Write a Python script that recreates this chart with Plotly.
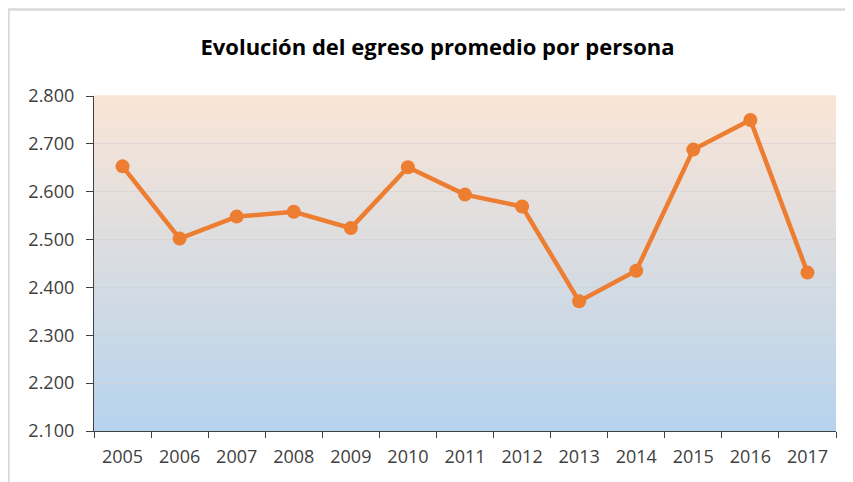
import plotly.graph_objects as go

years = ["2005", "2006", "2007", "2008", "2009", "2010", "2011",
         "2012", "2013", "2014", "2015", "2016", "2017"]
egreso = [2653, 2502, 2548, 2558, 2524, 2651, 2594,
          2569, 2371, 2435, 2688, 2750, 2431]
y_ticks = [2100, 2200, 2300, 2400, 2500, 2600, 2700, 2800]

title_text = "Evolución del egreso promedio por persona"

# page body has an 8px margin, so the figure is sized to fit the window
W, H = 845, 474
L, R, T, B = 86, 17, 88, 51
PW, PH = W - L - R, H - T - B

fig = go.Figure()
fig.add_trace(go.Scatter(
    x=years, y=egreso, mode="lines+markers",
    line=dict(color="#ED7D31", width=4.5),
    marker=dict(color="#ED7D31", size=14),
    hoverinfo="x+y", showlegend=False,
))

# vertical gradient background of the plot area
top = (250, 229, 214)
bot = (182, 211, 237)
N = 80
shapes = []
for i in range(N):
    t = (i + 0.5) / N
    c = tuple(round(bot[k] + (top[k] - bot[k]) * t) for k in range(3))
    shapes.append(dict(
        type="rect", xref="x domain", yref="y domain",
        x0=0, x1=1, y0=i / N, y1=(i + 1) / N + 0.002,
        fillcolor="rgb(%d,%d,%d)" % c, line=dict(width=0), layer="below",
    ))
# outer frame (chart border, cropped at right and bottom)
shapes.append(dict(
    type="rect", xref="paper", yref="paper",
    x0=(-L + 0.5) / PW, x1=1.3, y0=-0.5, y1=1 + (T - 1.5) / PH,
    line=dict(color="#d9d9d9", width=2.5), fillcolor="rgba(0,0,0,0)",
    layer="below",
))

fig.update_layout(
    width=W, height=H,
    margin=dict(l=L, r=R, t=T, b=B, autoexpand=False),
    paper_bgcolor="white", plot_bgcolor="white",
    separators=",.",
    font=dict(family="Open Sans", size=18, color="#404040"),
    title=dict(text="<b>" + title_text + "</b>", xref="container",
               x=(437.5 - 8) / W, xanchor="center", yref="container",
               y=1 - (47 - 8) / H, yanchor="middle",
               font=dict(family="Open Sans", size=22, color="#000000")),
    shapes=shapes,
    xaxis=dict(
        type="category", tickson="boundaries", ticks="outside",
        ticklen=6, tickcolor="#404040", showline=True, linecolor="#404040",
        linewidth=1.3, showgrid=False, range=[-0.5, 12.5],
        ticklabelstandoff=9, automargin=False,
        tickfont=dict(size=18, color="#404040"),
    ),
    yaxis=dict(
        range=[2100, 2800], tickvals=y_ticks, tickformat=",.0f",
        ticks="outside", ticklen=7, tickcolor="#404040",
        showline=True, linecolor="#404040", linewidth=1.3,
        showgrid=True, gridcolor="rgba(210,210,210,0.6)", gridwidth=1,
        zeroline=False, ticklabelstandoff=8, automargin=False,
        tickfont=dict(size=18, color="#404040"),
    ),
)

fig.write_html("out.html")
